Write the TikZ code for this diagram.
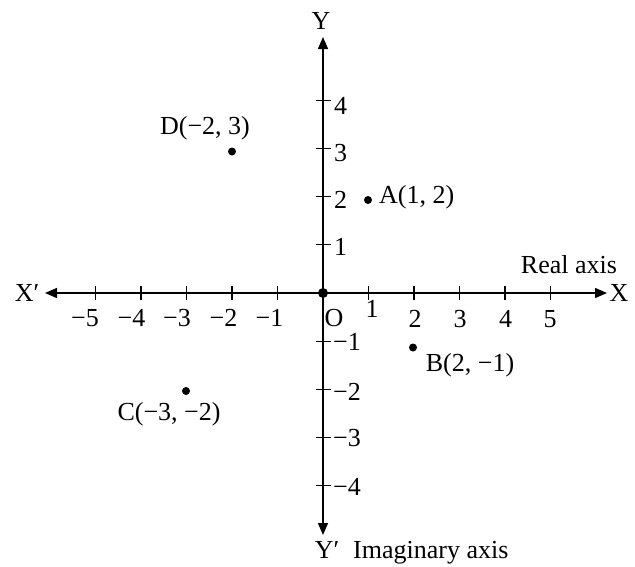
\documentclass[tikz,border=0pt]{standalone}
\usepackage{fontspec}
\setmainfont{Liberation Serif}
\usetikzlibrary{arrows.meta}
\tikzset{
  axis/.style={line width=1.4pt,{Triangle[length=12pt,width=10pt]}-{Triangle[length=12pt,width=10pt]}},
  tickmark/.style={line width=1.3pt},
  lbl/.style={inner sep=0pt,font=\fontsize{26}{31}\selectfont},
  pt/.style={circle,fill=black,inner sep=0pt,minimum size=8pt},
}
\begin{document}
\begin{tikzpicture}[x=1pt,y=-1pt]
\useasboundingbox (0,0) rectangle (635,566);
% axes
\coordinate (xl) at (45,293);
\coordinate (xr) at (607,293);
\coordinate (yt) at (323,37);
\coordinate (yb) at (323,535);
\draw[axis] (xl) -- (xr);
\draw[axis] (yb) -- (yt);
% ticks
\foreach \i in {-5,...,-1,1,2,...,5}{
  \draw[tickmark] (323+45.5*\i,286) -- (323+45.5*\i,300);
}
\foreach \j in {-4,...,-1,1,2,...,4}{
  \draw[tickmark] (315.5,293-48.2*\j) -- (330.5,293-48.2*\j);
}
% origin dot
\node[pt,minimum size=10pt] (O) at (323,293) {};
% x tick labels
\node[lbl] (xm5) at (85,318) {−5};
\node[lbl] (xm4) at (131.5,318) {−4};
\node[lbl] (xm3) at (177,318) {−3};
\node[lbl] (xm2) at (223.5,318) {−2};
\node[lbl] (xm1) at (269.5,318) {−1};
\node[lbl] (xp1) at (372,309) {1};
\node[lbl] (xp2) at (415,319) {2};
\node[lbl] (xp3) at (460,319) {3};
\node[lbl] (xp4) at (505.5,319) {4};
\node[lbl] (xp5) at (550,319) {5};
% y tick labels
\node[lbl,anchor=west] (yp4) at (334,106) {4};
\node[lbl,anchor=west] (yp3) at (334,153) {3};
\node[lbl,anchor=west] (yp2) at (334,200) {2};
\node[lbl,anchor=west] (yp1) at (334,247) {1};
\node[lbl,anchor=west] (ym1) at (333,342) {−1};
\node[lbl,anchor=west] (ym2) at (333,392) {−2};
\node[lbl,anchor=west] (ym3) at (333,438) {−3};
\node[lbl,anchor=west] (ym4) at (333,487) {−4};
% axis labels
\node[lbl] (Y) at (321,21) {Y};
\node[lbl] (Yp) at (327,550) {Y′};
\node[lbl,anchor=west] (imag) at (353,553) {Imaginary axis};
\node[lbl] (Xp) at (27,293) {X′};
\node[lbl] (X) at (619,293) {X};
\node[lbl] (real) at (569,265) {Real axis};
\node[lbl] (Olbl) at (334,318) {O};
% points
\node[pt] (D) at (232,151.5) {};
\node[pt] (A) at (368,200) {};
\node[pt] (B) at (413,347.5) {};
\node[pt] (C) at (186,391) {};
\node[lbl] (Dl) at (205,128) {D(−2, 3)};
\node[lbl,anchor=west] (Al) at (379,197) {A(1, 2)};
\node[lbl] (Bl) at (470,365) {B(2, −1)};
\node[lbl] (Cl) at (169,414) {C(−3, −2)};
\end{tikzpicture}
\end{document}
